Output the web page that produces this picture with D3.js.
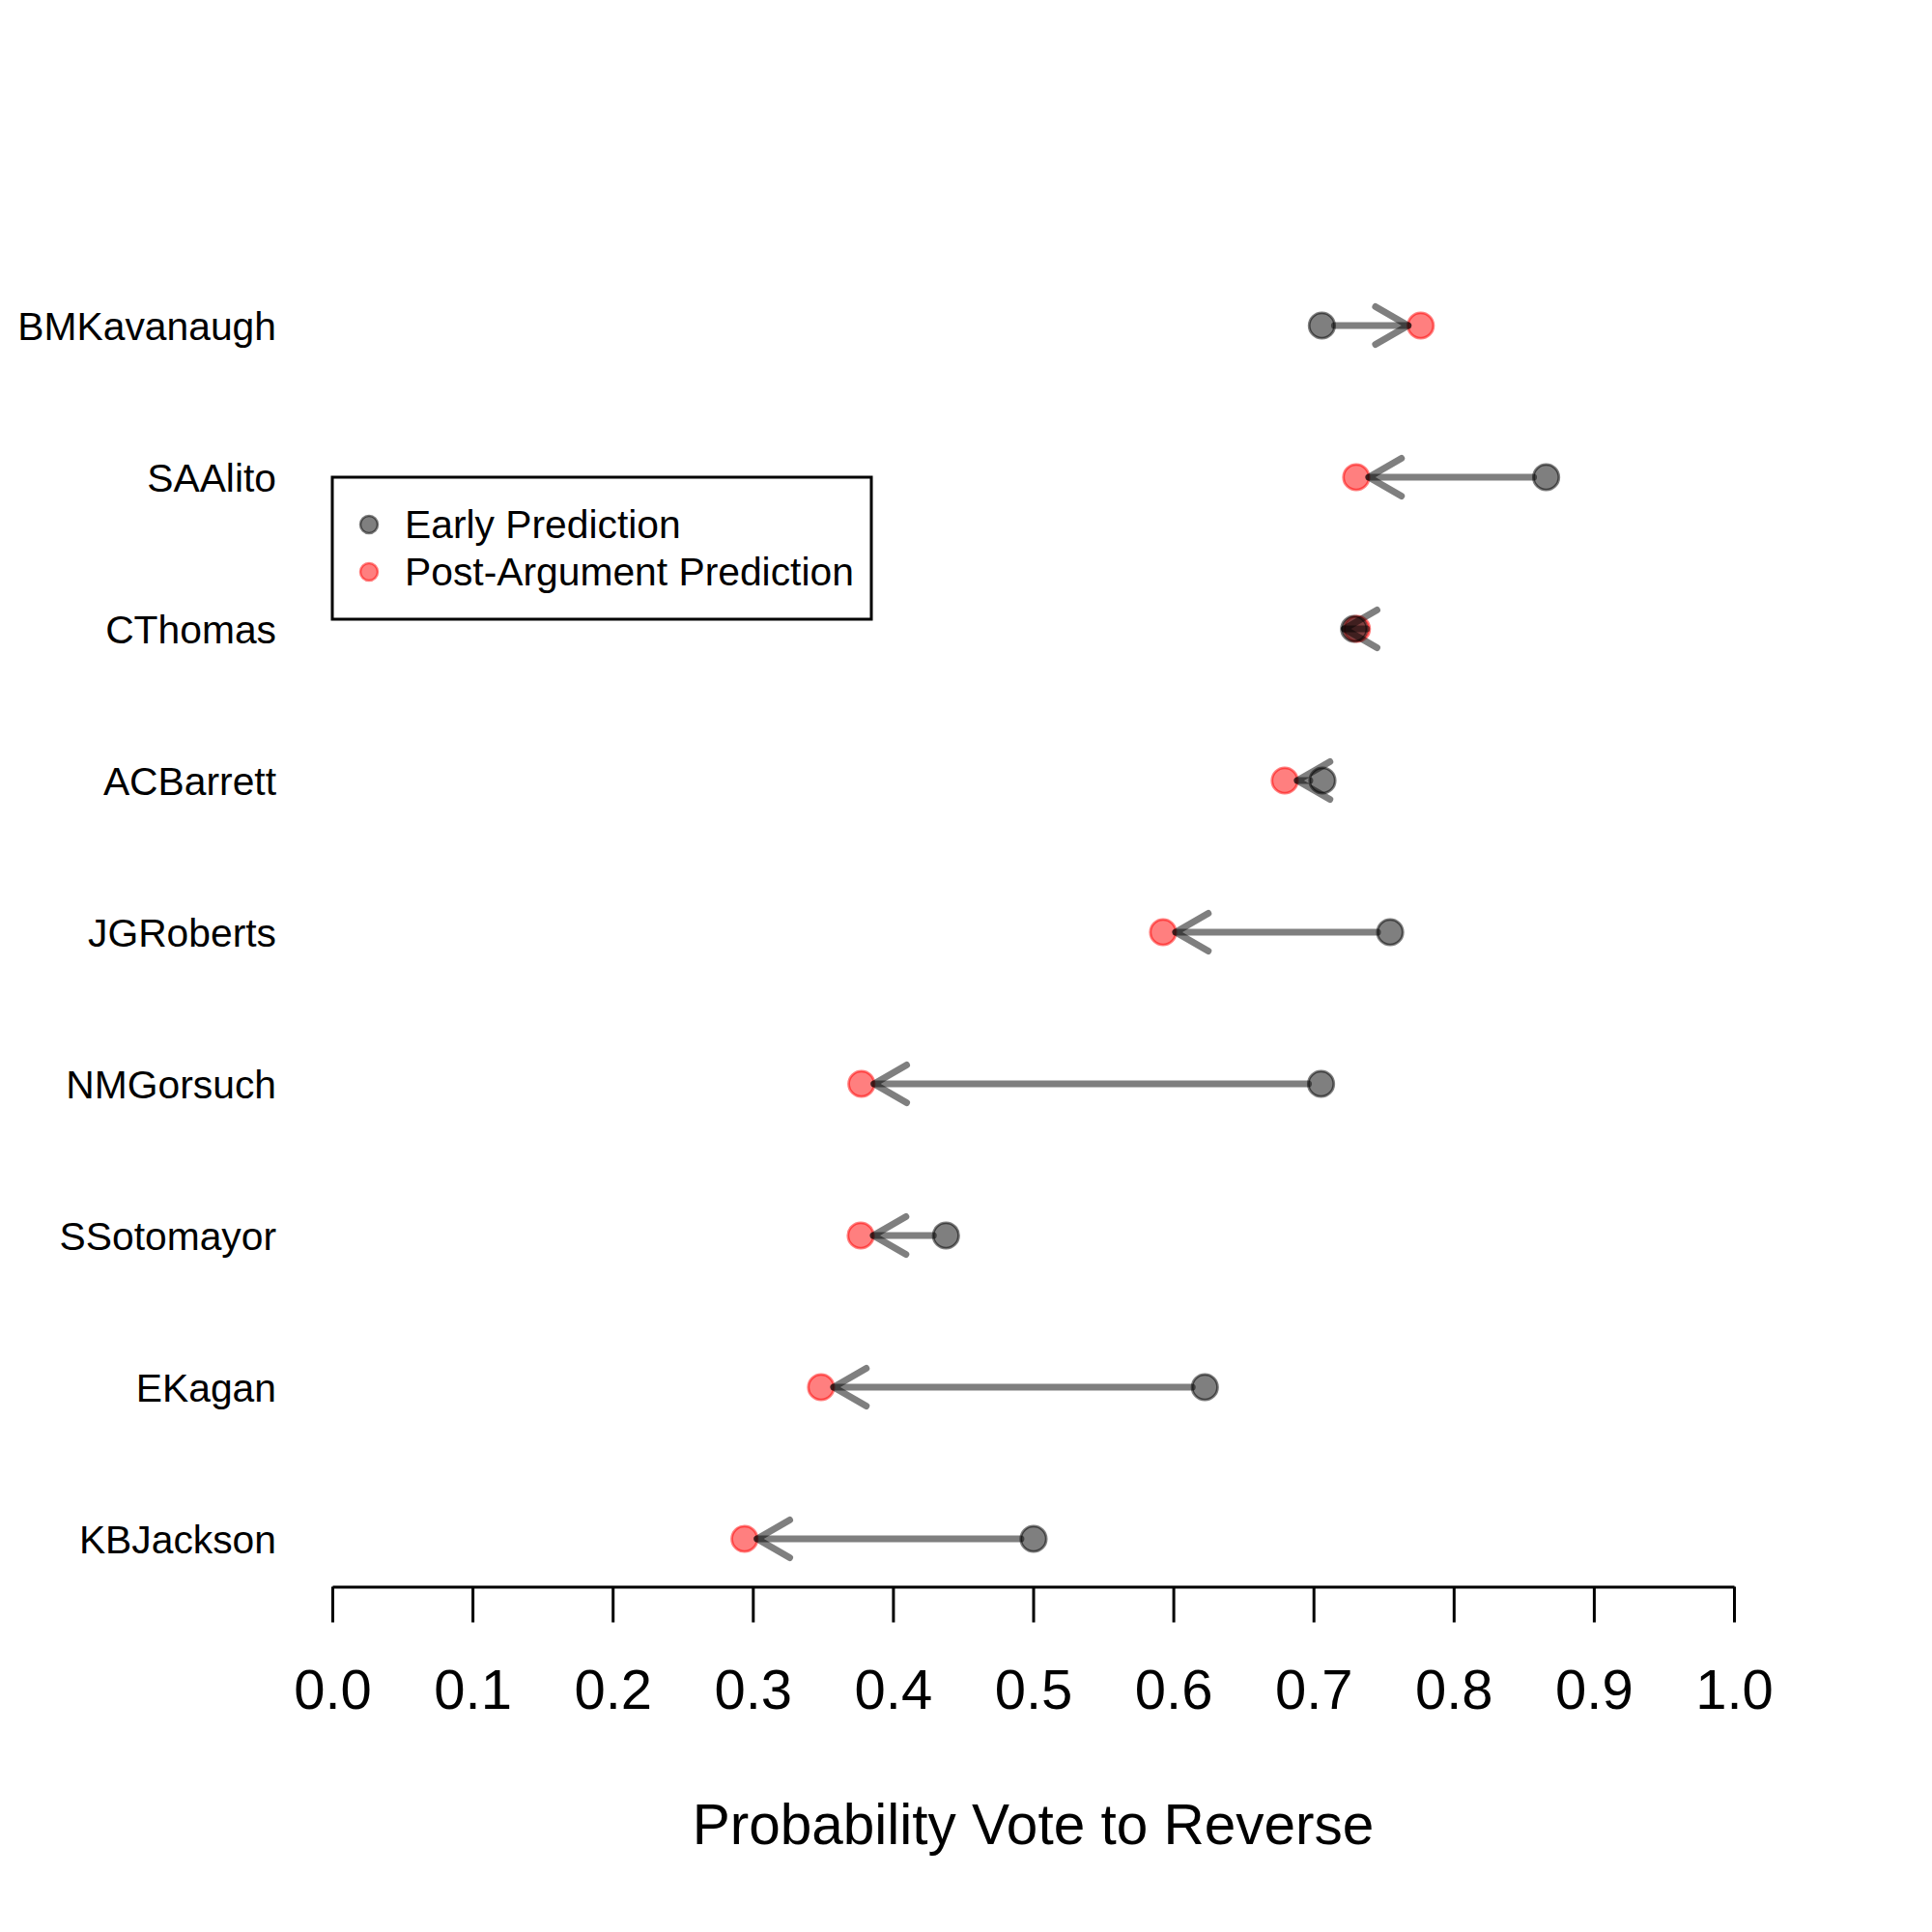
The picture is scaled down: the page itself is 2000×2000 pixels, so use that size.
<!DOCTYPE html>
<html>
<head>
<meta charset="utf-8">
<script src="https://cdn.jsdelivr.net/npm/d3@7"></script>
<style>
  html, body { margin: 0; padding: 0; background: #fff; }
  svg { display: block; }
  text { font-family: "Liberation Sans", Arial, Helvetica, sans-serif; fill: #000; }
</style>
</head>
<body>
<div id="chart"></div>
<script>
// ---- data ----
const justices = ["BMKavanaugh", "SAAlito", "CThomas", "ACBarrett", "JGRoberts",
                  "NMGorsuch", "SSotomayor", "EKagan", "KBJackson"];
const earlyPrediction = [0.706, 0.866, 0.729, 0.7064, 0.7547, 0.7054, 0.4378, 0.6225, 0.5003];
const postPrediction  = [0.7765, 0.7305, 0.731, 0.6795, 0.5927, 0.3775, 0.3770, 0.3487, 0.2941];
const xTicks = [0.0, 0.1, 0.2, 0.3, 0.4, 0.5, 0.6, 0.7, 0.8, 0.9, 1.0];
const legendLabels = ["Early Prediction", "Post-Argument Prediction"];
const xTitle = "Probability Vote to Reverse";

// ---- layout ----
const W = 2000, H = 2000;
const svg = d3.select("#chart").append("svg").attr("width", W).attr("height", H);

const x = d3.scaleLinear().domain([0, 1]).range([344, 1795]);
const y = d3.scalePoint().domain(justices).range([337, 337 + 157 * (justices.length - 1)]);
const axisY = 1642.5;

const GREY = "rgba(0,0,0,0.5)";
const RED = "rgba(255,0,0,0.5)";
const R = 13.2;

const rows = justices.map((j, i) => ({ name: j, early: earlyPrediction[i], post: postPrediction[i] }));

// ---- x axis ----
const xAxis = d3.axisBottom(x).tickValues(xTicks).tickFormat(d3.format(".1f"))
  .tickSizeInner(37).tickSizeOuter(0).tickPadding(0);
const gx = svg.append("g").attr("transform", `translate(0,${axisY})`).call(xAxis);
gx.select(".domain").attr("stroke", "#000").attr("stroke-width", 3);
gx.selectAll(".tick line").attr("stroke", "#000").attr("stroke-width", 3);
gx.selectAll(".tick text")
  .attr("y", 1769 - axisY).attr("dy", 0)
  .style("font-size", "58px").style("font-family", '"Liberation Sans", Arial, sans-serif');

// ---- y labels ----
const yAxis = d3.axisLeft(y).tickSize(0).tickPadding(58);
const gy = svg.append("g").attr("transform", `translate(${x(0)},0)`).call(yAxis);
gy.select(".domain").remove();
gy.selectAll(".tick text").attr("dy", "0.35em")
  .style("font-size", "40.8px").style("font-family", '"Liberation Sans", Arial, sans-serif');

// ---- axis title ----
svg.append("text").attr("x", (x(0) + x(1)) / 2).attr("y", 1909)
  .attr("text-anchor", "middle").style("font-size", "58.5px").text(xTitle);

// ---- points ----
const pts = svg.append("g");
pts.selectAll("circle.post").data(rows).join("circle").attr("class", "post")
  .attr("cx", d => x(d.post)).attr("cy", d => y(d.name)).attr("r", R)
  .attr("fill", RED).attr("stroke", RED).attr("stroke-width", 2.8);
pts.selectAll("circle.early").data(rows).join("circle").attr("class", "early")
  .attr("cx", d => x(d.early)).attr("cy", d => y(d.name)).attr("r", R)
  .attr("fill", GREY).attr("stroke", GREY).attr("stroke-width", 2.8);

// ---- arrows ----
const OFF = 13, HL = 39, ANG = Math.PI / 6;
const arr = svg.append("g").attr("fill", "none").attr("stroke", GREY)
  .attr("stroke-width", 7).attr("stroke-linecap", "round").attr("stroke-linejoin", "round");
rows.forEach(d => {
  const xe = x(d.early), xp = x(d.post), yy = y(d.name);
  const s = xe >= xp ? 1 : -1;
  const x0 = xe - OFF * s, x1 = xp + OFF * s;
  const u = x1 >= x0 ? 1 : -1;
  arr.append("line").attr("x1", x0).attr("y1", yy).attr("x2", x1).attr("y2", yy);
  const dx = HL * Math.cos(ANG) * u, dy = HL * Math.sin(ANG);
  arr.append("path").attr("d", `M${x1 - dx},${yy - dy}L${x1},${yy}L${x1 - dx},${yy + dy}`);
});

// ---- legend ----
const lg = svg.append("g");
lg.append("rect").attr("x", 344).attr("y", 494).attr("width", 558).attr("height", 147)
  .attr("fill", "none").attr("stroke", "#000").attr("stroke-width", 3);
const legendColors = [GREY, RED];
legendLabels.forEach((lab, i) => {
  const cy = 543 + 49 * i;
  lg.append("circle").attr("cx", 382).attr("cy", cy).attr("r", 9)
    .attr("fill", legendColors[i]).attr("stroke", legendColors[i]).attr("stroke-width", 2.5);
  lg.append("text").attr("x", 419).attr("y", cy + 14).style("font-size", "40.8px").text(lab);
});
</script>
</body>
</html>
